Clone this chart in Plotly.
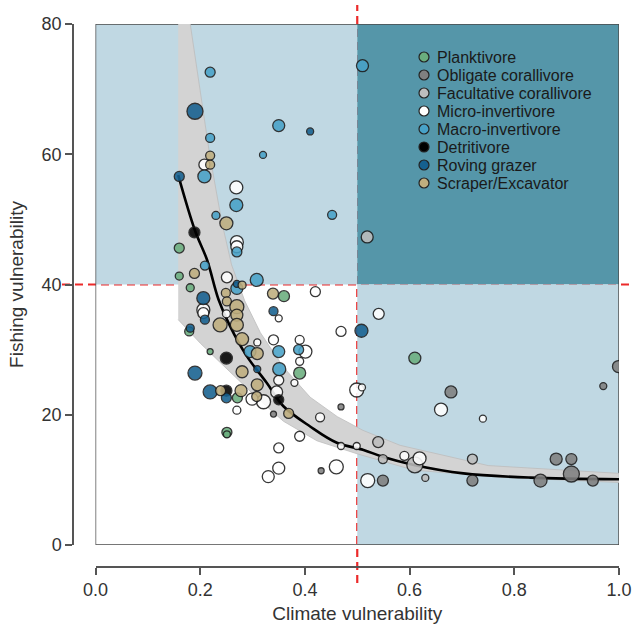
import plotly.graph_objects as go

# ---------------- data ----------------
categories = ["Planktivore", "Obligate corallivore", "Facultative corallivore",
              "Micro-invertivore", "Macro-invertivore", "Detritivore",
              "Roving grazer", "Scraper/Excavator"]
cat_colors = ["#6aae7e", "#808080", "#bdbdbd", "#ffffff", "#48a2c8",
              "#000000", "#15608f", "#bfae7e"]

plank_x = [0.160, 0.160, 0.181, 0.179, 0.219, 0.360, 0.390, 0.271, 0.251, 0.251, 0.610]
plank_y = [45.6, 41.3, 39.5, 32.8, 29.7, 38.2, 26.4, 22.6, 17.3, 17.0, 28.7]
plank_s = [10, 8, 8, 9, 6, 11, 12, 10, 10, 7, 12]

oblig_x = [0.999, 0.970, 0.679, 0.469, 0.431, 0.880, 0.909, 0.850, 0.909, 0.950, 0.340, 0.549, 0.720]
oblig_y = [27.4, 24.4, 23.5, 21.2, 11.4, 13.2, 13.2, 9.9, 10.9, 9.9, 20.1, 9.9, 9.9]
oblig_s = [12, 7, 12, 6, 6, 12, 11, 13, 16, 11, 6, 11, 11]

facul_x = [0.519, 0.540, 0.549, 0.610, 0.720, 0.630]
facul_y = [47.3, 15.8, 13.2, 12.3, 13.2, 10.3]
facul_s = [12, 11, 9, 16, 10, 7]

micro_x = [0.208, 0.269, 0.270, 0.270, 0.251, 0.206, 0.206, 0.250, 0.420, 0.350,
           0.469, 0.340, 0.390, 0.401, 0.309, 0.390, 0.350, 0.346, 0.380, 0.321,
           0.299, 0.270, 0.499, 0.509, 0.541, 0.429, 0.390, 0.350, 0.469, 0.499,
           0.460, 0.350, 0.330, 0.520, 0.660, 0.740, 0.590, 0.619]
micro_y = [58.4, 54.9, 46.5, 45.8, 41.1, 36.1, 35.6, 35.5, 38.9, 34.8,
           32.8, 31.5, 31.5, 29.7, 31.1, 28.2, 25.3, 23.5, 24.9, 22.0,
           22.4, 20.7, 23.8, 24.2, 35.5, 19.6, 16.7, 14.9, 15.2, 15.2,
           12.0, 11.8, 10.5, 9.9, 20.8, 19.4, 13.7, 13.3]
micro_s = [11, 13, 13, 12, 11, 13, 11, 8, 10, 7,
           10, 10, 9, 13, 7, 8, 10, 12, 7, 14,
           12, 8, 14, 7, 11, 9, 10, 10, 7, 7,
           14, 12, 12, 14, 13, 7, 9, 13]

macro_x = [0.219, 0.219, 0.350, 0.320, 0.510, 0.208, 0.269, 0.230, 0.270, 0.452,
           0.209, 0.270, 0.308, 0.350, 0.388, 0.351, 0.295]
macro_y = [72.6, 62.5, 64.4, 59.9, 73.6, 56.6, 52.2, 50.6, 45.0, 50.7,
           42.9, 39.4, 40.7, 29.7, 30.0, 27.0, 29.7]
macro_s = [10, 9, 12, 7, 12, 13, 13, 8, 10, 9, 9, 12, 13, 12, 10, 13, 12]

detri_x = [0.189, 0.250, 0.250, 0.350]
detri_y = [48.0, 28.7, 23.7, 22.3]
detri_s = [11, 12, 11, 10]

roving_x = [0.190, 0.160, 0.206, 0.209, 0.181, 0.340, 0.508, 0.190, 0.219, 0.250, 0.309, 0.270, 0.410]
roving_y = [66.6, 56.6, 37.9, 34.6, 33.3, 35.9, 32.9, 26.4, 23.5, 22.6, 27.0, 40.1, 63.5]
roving_s = [16, 10, 13, 9, 8, 9, 13, 14, 14, 10, 7, 7, 7]

scraper_x = [0.219, 0.219, 0.250, 0.189, 0.280, 0.339, 0.249, 0.251, 0.270, 0.270,
             0.238, 0.270, 0.280, 0.309, 0.280, 0.309, 0.278, 0.239, 0.308, 0.369]
scraper_y = [59.8, 58.4, 49.4, 41.7, 39.9, 38.6, 38.7, 37.4, 36.6, 35.3,
             33.8, 33.8, 31.6, 29.4, 26.6, 24.6, 23.7, 23.7, 22.8, 20.2]
scraper_s = [9, 9, 13, 10, 8, 11, 9, 9, 14, 12, 14, 13, 13, 12, 12, 12, 12, 10, 10, 10]

fit_x = [0.158, 0.19, 0.213, 0.235, 0.257, 0.289, 0.327, 0.359, 0.41, 0.461,
         0.512, 0.55, 0.608, 0.703, 0.831, 1.0]
fit_y = [56.8, 48.3, 43.8, 37.7, 33.6, 29.0, 24.9, 21.3, 18.2, 15.7,
         14.6, 13.5, 12.3, 11.0, 10.35, 10.1]

band_up_x = [0.158, 0.181, 0.218, 0.241, 0.26, 0.285, 0.315, 0.359, 0.41, 0.462,
             0.511, 0.582, 0.75, 1.0]
band_up_y = [95, 80, 60, 49.7, 43.0, 37.5, 32.6, 27.3, 22.7, 19.7,
             17.6, 15.3, 12.2, 11.0]
band_lo_x = [0.158, 0.2, 0.232, 0.27, 0.31, 0.359, 0.423, 0.5, 0.608, 0.773, 1.0]
band_lo_y = [34.6, 31.0, 28.5, 25.5, 22.5, 19.0, 16.0, 14.0, 11.5, 10.4, 9.6]

x_ticks = [0.0, 0.2, 0.4, 0.6, 0.8, 1.0]
y_ticks = [0, 20, 40, 60, 80]
x_thresh = 0.5
y_thresh = 40

series = [
    (plank_x, plank_y, plank_s),
    (oblig_x, oblig_y, oblig_s),
    (facul_x, facul_y, facul_s),
    (micro_x, micro_y, micro_s),
    (macro_x, macro_y, macro_s),
    (detri_x, detri_y, detri_s),
    (roving_x, roving_y, roving_s),
    (scraper_x, scraper_y, scraper_s),
]

# ---------------- layout geometry ----------------
W, H = 633, 624
ml, mr, mt, mb = 60, 14, 24, 50
pw, ph = W - ml - mr, H - mt - mb
box_l, box_r, box_t, box_b = 95.5, 619, 24, 545
xdom = [(box_l - ml) / pw, (box_r - ml) / pw]
ydom = [(H - mb - box_b) / ph, (H - mb - box_t) / ph]
xaxis_pos = (H - mb - 567) / ph
yaxis_pos = (73 - ml) / pw

xr = [0, 1]
yr = [0, 80]


def paper_x(px):
    return (px - ml) / pw


def paper_y(py):
    return (H - mb - py) / ph


def data_to_paper_x(v):
    return xdom[0] + (v - xr[0]) / (xr[1] - xr[0]) * (xdom[1] - xdom[0])


def data_to_paper_y(v):
    return ydom[0] + (v - yr[0]) / (yr[1] - yr[0]) * (ydom[1] - ydom[0])


fig = go.Figure()

# confidence band
fig.add_trace(go.Scatter(
    x=band_up_x + band_lo_x[::-1], y=band_up_y + band_lo_y[::-1],
    fill="toself", fillcolor="#d3d3d3", mode="lines",
    line=dict(color="#bcbcbc", width=0.8), showlegend=False, hoverinfo="skip"))

# fitted curve
fig.add_trace(go.Scatter(
    x=fit_x, y=fit_y, mode="lines", line=dict(color="black", width=2.6, shape="spline"),
    showlegend=False, hoverinfo="skip"))

for name, col, (sx, sy, ss) in zip(categories, cat_colors, series):
    fig.add_trace(go.Scatter(
        x=sx, y=sy, mode="markers", name=name, showlegend=False,
        marker=dict(color=col, size=ss, opacity=0.88,
                    line=dict(color="#1c1c1c", width=1.3))))

light_blue = "#c0d8e3"
dark_teal = "#5596a9"
red = "#ec2a2a"
shapes = [
    dict(type="rect", xref="x", yref="y", x0=0, x1=x_thresh, y0=y_thresh, y1=80,
         fillcolor=light_blue, line=dict(width=0), layer="below"),
    dict(type="rect", xref="x", yref="y", x0=x_thresh, x1=1, y0=y_thresh, y1=80,
         fillcolor=dark_teal, line=dict(width=0), layer="below"),
    dict(type="rect", xref="x", yref="y", x0=x_thresh, x1=1, y0=0, y1=y_thresh,
         fillcolor=light_blue, line=dict(width=0), layer="below"),
    dict(type="rect", xref="x", yref="y", x0=0, x1=1, y0=0, y1=80,
         line=dict(color="#4a4a4a", width=1.4), layer="below"),
    dict(type="line", xref="paper", yref="paper",
         x0=data_to_paper_x(x_thresh), x1=data_to_paper_x(x_thresh),
         y0=paper_y(583), y1=paper_y(5),
         line=dict(color=red, width=2.2, dash="8px,5px"), layer="below"),
    dict(type="line", xref="paper", yref="paper",
         x0=paper_x(62), x1=paper_x(632),
         y0=data_to_paper_y(y_thresh), y1=data_to_paper_y(y_thresh),
         line=dict(color=red, width=2.2, dash="8px,5px"), layer="below"),
]

# manual legend (marker circles + text)
annotations = []
leg_x, leg_y0, leg_dy = 424, 57, 18
for i, (name, col) in enumerate(zip(categories, cat_colors)):
    yy = paper_y(leg_y0 + i * leg_dy)
    shapes.append(dict(type="circle", xref="paper", yref="paper",
                       xsizemode="pixel", ysizemode="pixel",
                       xanchor=paper_x(leg_x), yanchor=yy,
                       x0=-5, x1=5, y0=-5, y1=5,
                       fillcolor=col, line=dict(color="#222222", width=1.2),
                       layer="above"))
    annotations.append(dict(x=paper_x(leg_x + 11), y=yy, xref="paper", yref="paper",
                            text=name, showarrow=False, xanchor="left", yanchor="middle",
                            font=dict(size=16, color="#1a1a1a")))

font_family = "Liberation Sans, Arial, Helvetica, sans-serif"

fig.update_layout(
    width=W, height=H,
    margin=dict(l=ml, r=mr, t=mt, b=mb),
    paper_bgcolor="white", plot_bgcolor="white",
    font=dict(family=font_family, color="#333333"),
    shapes=shapes,
    annotations=annotations,
    showlegend=False,
    xaxis=dict(domain=xdom, range=xr, anchor="free", position=xaxis_pos,
               automargin=False,
               showline=True, linecolor="#555555", linewidth=1.5,
               ticks="outside", ticklen=7, tickcolor="#555555", tickwidth=1.5,
               tickvals=x_ticks, ticktext=[f"{v:.1f}" for v in x_ticks],
               tickfont=dict(size=18, color="#333333"),
               showgrid=False, zeroline=False,
               title=dict(text="Climate vulnerability", font=dict(size=19, color="#333333"),
                          standoff=10)),
    yaxis=dict(domain=ydom, range=yr, anchor="free", position=yaxis_pos,
               automargin=False,
               showline=True, linecolor="#555555", linewidth=1.5,
               ticks="outside", ticklen=7, tickcolor="#555555", tickwidth=1.5,
               tickvals=y_ticks, ticktext=[str(v) for v in y_ticks],
               tickfont=dict(size=18, color="#333333"),
               showgrid=False, zeroline=False,
               title=dict(text="Fishing vulnerability", font=dict(size=19, color="#333333"),
                          standoff=12)),
)

fig.write_html("out.html", config={"displayModeBar": False},
               post_script="document.body.style.margin='0';")
